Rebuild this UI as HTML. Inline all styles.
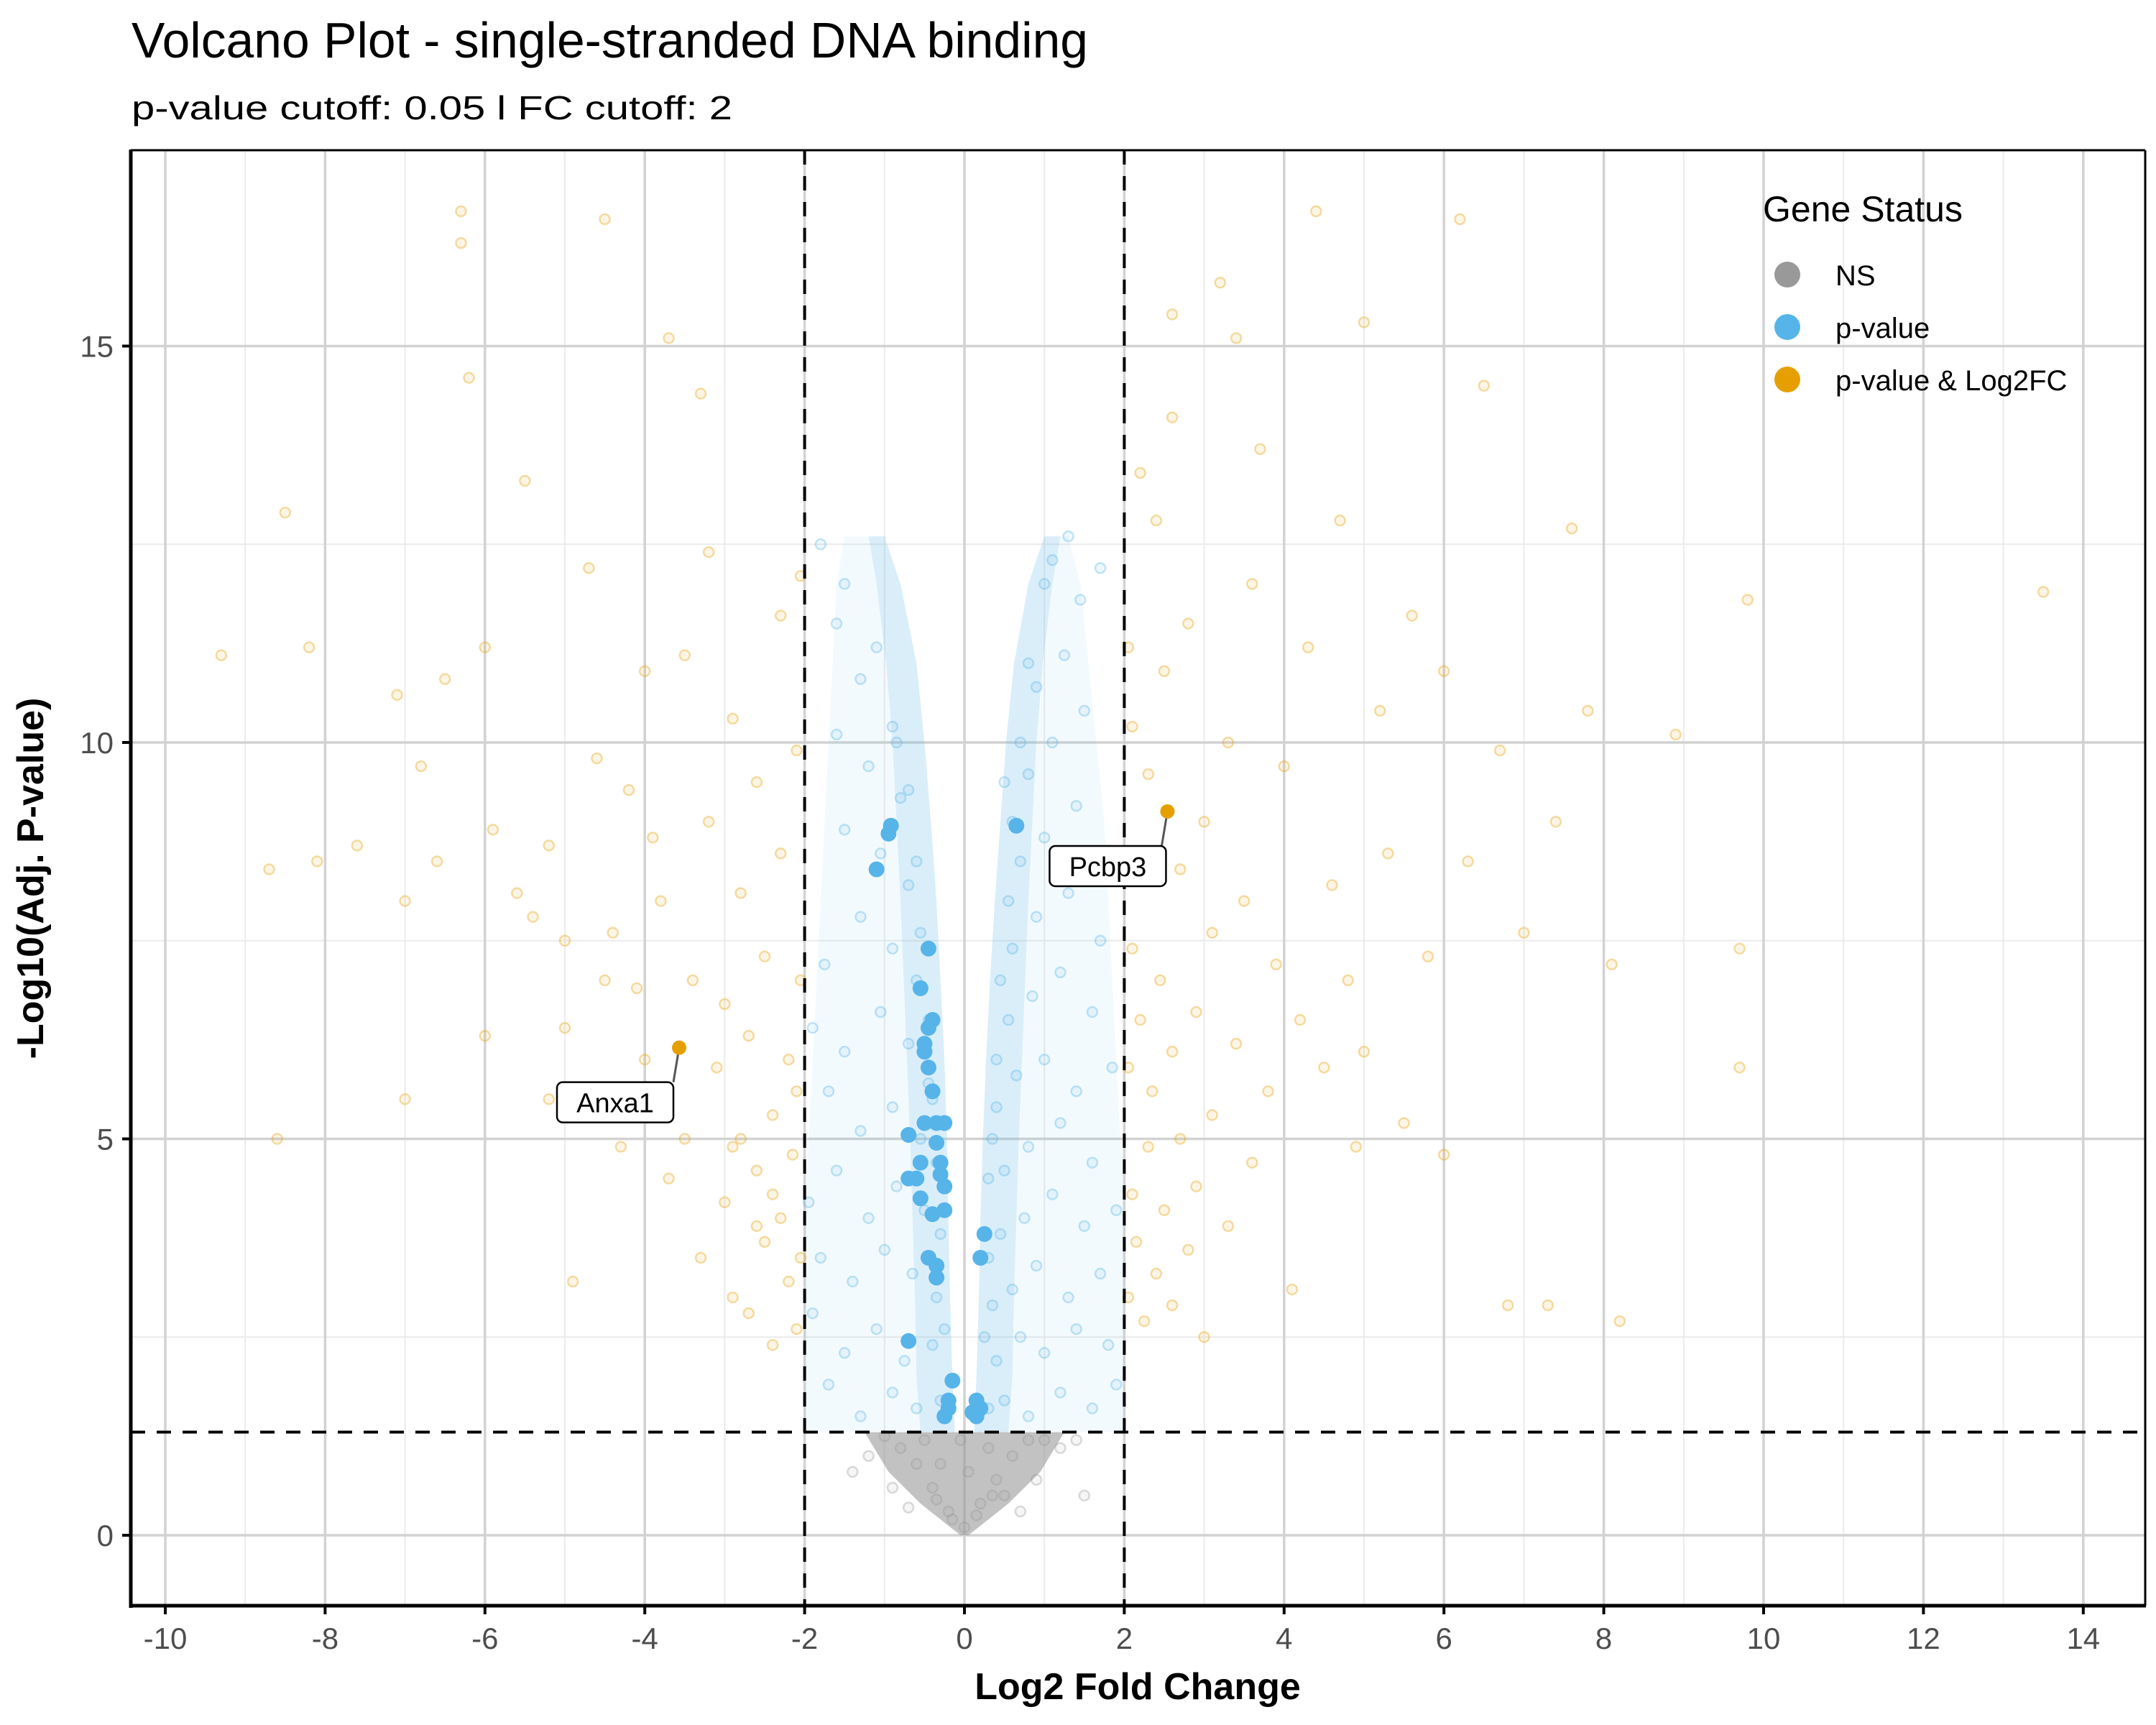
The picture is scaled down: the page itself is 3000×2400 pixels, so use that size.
<!DOCTYPE html>
<html><head><meta charset="utf-8"><style>
html,body{margin:0;padding:0;background:#fff;}
svg{display:block;font-family:"Liberation Sans",Arial,sans-serif;}
</style></head><body>
<svg id="chart" width="3000" height="2400" viewBox="0 0 3000 2400" xmlns="http://www.w3.org/2000/svg">
<rect x="0" y="0" width="3000" height="2400" fill="#fff"/>
<text x="183" y="80" font-size="70" textLength="1331" lengthAdjust="spacingAndGlyphs">Volcano Plot - single-stranded DNA binding</text>
<text x="183" y="166" font-size="46" textLength="836" lengthAdjust="spacingAndGlyphs">p-value cutoff: 0.05 l FC cutoff: 2</text>
<g id="grid"></g>
<g id="marks"></g>
<g id="axes"></g>
<text x="1583" y="2364" font-size="52" font-weight="bold" text-anchor="middle">Log2 Fold Change</text>
<text transform="translate(60,1222) rotate(-90)" font-size="52" font-weight="bold" text-anchor="middle">-Log10(Adj. P-value)</text>
<g>
<text x="2453" y="308" font-size="50">Gene Status</text>
<g><circle cx="2487" cy="382" r="18" fill="#999999"/><text x="2554" y="397" font-size="40">NS</text></g>
<g><circle cx="2487" cy="455" r="18" fill="#56B4E9"/><text x="2554" y="470" font-size="40">p-value</text></g>
<g><circle cx="2487" cy="528" r="18" fill="#E69F00"/><text x="2554" y="543" font-size="40">p-value &amp; Log2FC</text></g>
</g>
</svg>
<script>
const xTicks=[-10,-8,-6,-4,-2,0,2,4,6,8,10,12,14];
const yTicks=[0,5,10,15];
const pCut=1.301, fcCut=2;
const grayX=[0,-0.2,0.2,-0.4,0.4,-0.6,0.6,-0.8,0.8,-1.0,1.0,-0.3,0.3,-0.5,0.5,-1.2,1.2,-0.9,0.9,0.7,-0.7,1.4,-1.4,1.5,0.05,-0.05,-0.15,0.15,-0.35,0.35];
const grayY=[0.1,0.3,0.4,0.6,0.7,0.9,1.0,1.1,1.2,1.25,1.2,0.9,1.1,1.2,0.5,1.0,1.1,0.6,0.7,0.3,0.35,1.2,0.8,0.5,0.8,1.2,0.2,0.25,0.45,0.5];
const grayEnvY=[0,0.4,0.8,1.3];
const grayEnvHalfW=[0.05,0.55,0.95,1.25];
const blueX=[0.3,0.5,0.8,1.2,1.6,1.9,0.4,0.7,1.0,1.4,1.8,0.35,0.6,0.9,1.3,1.7,0.45,0.75,1.1,1.5,1.9,0.5,0.8,1.2,1.6,0.4,0.65,1.0,1.4,1.85,0.55,0.85,1.2,1.6,0.6,0.9,1.3,1.7,0.7,1.0,1.4,0.8,1.1,1.5,0.9,1.25,1.45,1.1,1.3,1.7,0.3,0.3,0.35,0.4,0.45,0.55,0.6,0.7,0.8,1.0,0.25,0.5,
-0.3,-0.6,-0.9,-1.3,-1.7,-0.4,-0.75,-1.1,-1.5,-1.9,-0.35,-0.65,-1.0,-1.4,-1.8,-0.5,-0.85,-1.2,-1.6,-1.95,-0.55,-0.9,-1.3,-1.7,-0.45,-0.7,-1.05,-1.5,-1.9,-0.6,-0.9,-1.3,-1.75,-0.7,-1.05,-1.5,-0.8,-1.2,-1.6,-0.9,-1.3,-1.6,-1.8,-1.5,-0.3,-0.35,-0.4,-0.45,-0.55,-0.6,-0.7,-0.85,-0.25,-1.1];
const blueY=[1.6,1.7,1.5,1.8,1.6,1.9,2.2,2.5,2.3,2.6,2.4,2.9,3.1,3.4,3.0,3.3,3.8,4.0,4.3,3.9,4.1,4.6,4.9,5.2,4.7,5.4,5.8,6.0,5.6,5.9,6.5,6.8,7.1,6.6,7.4,7.8,8.1,7.5,8.5,8.8,9.2,9.6,10.0,10.4,10.7,11.1,11.8,12.3,12.6,12.2,3.5,4.5,5.0,6.0,7.0,8.0,9.0,10.0,11.0,12.0,2.5,9.5,
1.7,1.6,1.8,1.5,1.9,2.4,2.2,2.6,2.3,2.8,3.0,3.3,3.6,3.2,3.5,4.1,4.4,4.0,4.6,4.2,5.0,5.4,5.1,5.6,5.7,6.2,6.6,6.1,6.4,7.0,7.4,7.8,7.2,8.2,8.6,8.9,9.3,9.7,10.1,10.2,10.8,11.5,12.5,12.0,3.8,4.7,5.5,6.5,7.6,8.5,9.4,10.0,2.6,11.2];
const bandY=[1.3,2,3,4,5,6,7,8,9,10,11,12,12.6];
const bandInnerR=[0.12,0.15,0.18,0.2,0.23,0.27,0.32,0.38,0.45,0.52,0.62,0.8,1.0];
const bandDenseR=[0.55,0.6,0.62,0.65,0.68,0.72,0.76,0.8,0.85,0.9,0.98,1.1,1.2];
const bandOuterR=[2,2,2,2,1.95,1.9,1.85,1.8,1.75,1.65,1.55,1.45,1.3];
const bandInnerL=[-0.12,-0.15,-0.18,-0.2,-0.22,-0.25,-0.3,-0.35,-0.42,-0.5,-0.6,-0.8,-1.0];
const bandDenseL=[-0.55,-0.6,-0.62,-0.65,-0.68,-0.72,-0.76,-0.8,-0.85,-0.9,-0.98,-1.1,-1.2];
const bandOuterL=[-2,-2,-2,-2,-1.95,-1.9,-1.85,-1.8,-1.75,-1.7,-1.65,-1.6,-1.5];
const sigBlueX=[-0.92,-0.95,-1.1,-0.45,-0.55,-0.4,-0.45,-0.5,-0.5,-0.45,-0.4,-0.35,-0.25,-0.5,-0.7,-0.35,-0.3,-0.55,-0.3,-0.6,-0.7,-0.25,-0.55,-0.4,-0.25,-0.45,-0.35,-0.35,-0.7,-0.15,-0.2,-0.25,-0.2,0.65,0.25,0.2,0.15,0.2,0.1,0.15];
const sigBlueY=[8.95,8.85,8.4,7.4,6.9,6.5,6.4,6.2,6.1,5.9,5.6,5.2,5.2,5.2,5.05,4.95,4.7,4.7,4.55,4.5,4.5,4.4,4.25,4.05,4.1,3.5,3.4,3.25,2.45,1.95,1.7,1.5,1.6,8.95,3.8,3.5,1.7,1.6,1.55,1.5];
const orangeX=[-9.3,-8.7,-8.6,-8.5,-8.2,-8.1,-7.6,-7.1,-7.0,-7.0,-6.8,-6.6,-6.5,-6.3,-6.3,-6.2,-6.0,-6.0,-5.9,-5.6,-5.5,-5.4,-5.2,-5.0,-5.0,-4.9,-4.7,-4.6,-4.5,-4.4,-4.3,-4.2,-4.1,-4.0,-3.9,-3.8,-3.7,-3.7,-3.5,-3.4,-3.3,-3.3,-3.2,-3.1,-3.0,-3.0,-2.9,-2.9,-2.8,-2.8,-2.7,-2.7,-2.6,-2.6,-2.5,-2.5,-2.4,-2.4,-2.3,-2.3,-2.3,-2.2,-2.2,-2.15,-2.1,-2.1,-2.1,-2.05,-2.05,-2.05,-2.4,-2.6,-2.9,-3.5,-4.0,-4.5,-5.2,-3.9,-3.2,
2.05,2.05,2.1,2.1,2.1,2.15,2.2,2.2,2.25,2.3,2.3,2.35,2.4,2.4,2.45,2.5,2.5,2.6,2.6,2.6,2.7,2.7,2.8,2.8,2.9,2.9,3.0,3.0,3.1,3.1,3.2,3.3,3.3,3.4,3.5,3.6,3.6,3.7,3.8,3.9,4.0,4.1,4.2,4.3,4.4,4.5,4.6,4.7,4.8,4.9,5.0,5.0,5.2,5.3,5.5,5.6,5.8,6.0,6.0,6.2,6.3,6.5,6.7,6.8,7.0,7.3,7.4,7.6,7.8,8.1,8.2,8.9,9.7,9.7,9.8,13.5,2.2,2.6,3.4,2.05];
const orangeY=[11.1,8.4,5.0,12.9,11.2,8.5,8.7,10.6,8.0,5.5,9.7,8.5,10.8,16.7,16.3,14.6,11.2,6.3,8.9,8.1,13.3,7.8,8.7,7.5,6.4,3.2,12.2,9.8,16.6,7.6,4.9,9.4,6.9,10.9,5.6,8.0,4.5,15.1,11.1,7.0,3.5,14.4,9.0,5.9,4.2,6.7,10.3,3.0,8.1,5.0,2.8,6.3,4.6,9.5,3.7,7.3,5.3,2.4,11.6,4.0,8.6,3.2,6.0,4.8,2.6,9.9,5.6,3.5,7.0,12.1,4.3,3.9,4.9,5.0,6.0,7.0,5.5,8.8,12.4,
3.0,5.9,4.3,7.4,10.2,3.7,6.5,8.3,2.7,4.9,9.6,5.6,3.3,12.8,7.0,4.1,10.9,6.1,2.9,14.1,5.0,8.4,3.6,11.5,6.6,4.4,9.0,2.5,5.3,7.6,15.8,3.9,10.0,6.2,8.0,4.7,12.0,13.7,5.6,7.2,9.7,3.1,6.5,11.2,16.7,5.9,8.2,12.8,7.0,4.9,15.3,6.1,10.4,8.6,5.2,11.6,7.3,10.9,4.8,16.6,8.5,14.5,9.9,2.9,7.6,2.9,9.0,12.7,10.4,7.2,2.7,10.1,7.4,5.9,11.8,11.9,13.4,15.4,15.1,11.2];
const labelNames=["Anxa1","Pcbp3"];
const labelX=[-3.57,2.54];
const labelY=[6.15,9.13];

const NS="http://www.w3.org/2000/svg";
const PL=182,PR=2985,PT=209,PB=2234;
const X0=1342,XU=111.2,Y0=2136,YU=110.3;
function sx(v){return X0+v*XU;}
function sy(v){return Y0-v*YU;}
function mk(tag,attrs,parent){const e=document.createElementNS(NS,tag);for(const k in attrs)e.setAttribute(k,attrs[k]);parent.appendChild(e);return e;}
const grid=document.getElementById('grid'),marks=document.getElementById('marks'),axes=document.getElementById('axes');
mk('rect',{x:PL,y:PT,width:PR-PL,height:PB-PT,fill:'#fff'},grid);
for(let i=0;i<xTicks.length-1;i++){const v=(xTicks[i]+xTicks[i+1])/2;const l=mk('line',{x1:sx(v),x2:sx(v),y1:PT,y2:PB,stroke:'#ebebeb','stroke-width':2},grid);

}
for(let i=0;i<yTicks.length;i++){const v=yTicks[i]+2.5;if(sy(v)<PT)continue;const l=mk('line',{x1:PL,x2:PR,y1:sy(v),y2:sy(v),stroke:'#ebebeb','stroke-width':2},grid);

}
xTicks.forEach(v=>{const l=mk('line',{x1:sx(v),x2:sx(v),y1:PT,y2:PB,stroke:'#d2d2d2','stroke-width':3.5},grid);

});
yTicks.forEach(v=>{const l=mk('line',{x1:PL,x2:PR,y1:sy(v),y2:sy(v),stroke:'#d2d2d2','stroke-width':3.5},grid);

});
function band(inner,outer,op,name){let pts=[];for(let i=0;i<bandY.length;i++)pts.push(sx(inner[i])+','+sy(bandY[i]));for(let i=bandY.length-1;i>=0;i--)pts.push(sx(outer[i])+','+sy(bandY[i]));
const p=mk('polygon',{points:pts.join(' '),fill:'#56B4E9','fill-opacity':op},marks);

}
band(bandInnerR,bandOuterR,0.07,'blue-density-right');
band(bandInnerR,bandDenseR,0.16,'blue-core-right');
band(bandInnerL,bandOuterL,0.07,'blue-density-left');
band(bandInnerL,bandDenseL,0.16,'blue-core-left');
(function(){let pts=[];for(let i=0;i<grayEnvY.length;i++)pts.push(sx(-grayEnvHalfW[i])+','+sy(grayEnvY[i]));for(let i=grayEnvY.length-1;i>=0;i--)pts.push(sx(grayEnvHalfW[i])+','+sy(grayEnvY[i]));
const p=mk('polygon',{points:pts.join(' '),fill:'#999','fill-opacity':0.6},marks);

})();
function pts(xs,ys,col,name){for(let i=0;i<xs.length;i++){const c=mk('circle',{cx:sx(xs[i]),cy:sy(ys[i]),r:7,fill:col,'fill-opacity':0.1,stroke:col,'stroke-opacity':0.35,'stroke-width':2.5},marks);

}}
pts(grayX,grayY,'#999999','ns-point');
pts(blueX,blueY,'#56B4E9','p-value-point');
pts(orangeX,orangeY,'#E69F00','fc-point');
for(let i=0;i<sigBlueX.length;i++){const c=mk('circle',{cx:sx(sigBlueX[i]),cy:sy(sigBlueY[i]),r:11,fill:'#56B4E9'},marks);

}
[-fcCut,fcCut].forEach(v=>{const l=mk('line',{x1:sx(v),x2:sx(v),y1:PT,y2:PB,stroke:'#000','stroke-width':4,'stroke-dasharray':'20 16'},marks);

});
{const l=mk('line',{x1:PL,x2:PR,y1:sy(pCut),y2:sy(pCut),stroke:'#000','stroke-width':4,'stroke-dasharray':'20 16'},marks);

}
const boxDx=[-170,-164];
for(let i=0;i<labelNames.length;i++){const px=sx(labelX[i]),py=sy(labelY[i]);const bx=px+boxDx[i],by=py+48;
const g=mk('g',{},marks);


mk('line',{x1:px,y1:py,x2:px-8,y2:by,stroke:'#555','stroke-width':3},g);
mk('rect',{x:bx,y:by,width:162,height:56,rx:8,fill:'#fff',stroke:'#000','stroke-width':2.5},g);
const t=mk('text',{x:bx+81,y:by+42,'font-size':38,'text-anchor':'middle'},g);t.textContent=labelNames[i];
mk('circle',{cx:px,cy:py,r:10,fill:'#E69F00'},g);}
mk('line',{x1:PL,x2:PR,y1:PT,y2:PT,stroke:'#000','stroke-width':3},axes);
mk('line',{x1:PR,x2:PR,y1:PT,y2:PB,stroke:'#000','stroke-width':3},axes);
mk('line',{x1:PL,x2:PL,y1:PT-1,y2:PB+3,stroke:'#000','stroke-width':5},axes);
mk('line',{x1:PL-2,x2:PR+1,y1:PB,y2:PB,stroke:'#000','stroke-width':5},axes);
xTicks.forEach(v=>{mk('line',{x1:sx(v),x2:sx(v),y1:PB,y2:PB+12,stroke:'#000','stroke-width':4},axes);
const t=mk('text',{x:sx(v),y:PB+60,'font-size':42,'text-anchor':'middle',fill:'#4d4d4d'},axes);t.textContent=v;

});
yTicks.forEach(v=>{mk('line',{x1:PL-12,x2:PL,y1:sy(v),y2:sy(v),stroke:'#000','stroke-width':4},axes);
const t=mk('text',{x:PL-24,y:sy(v)+15,'font-size':42,'text-anchor':'end',fill:'#4d4d4d'},axes);t.textContent=v;

});
</script>
</body></html>
